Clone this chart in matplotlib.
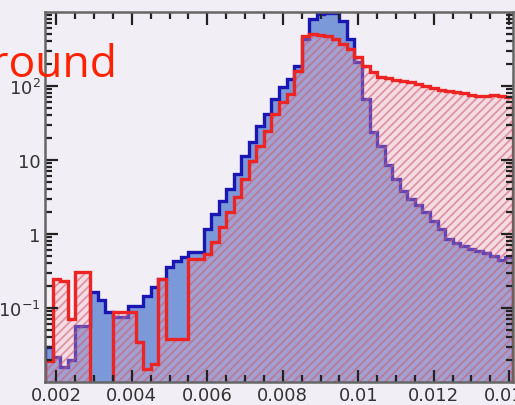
import numpy as np
import matplotlib
matplotlib.use('Agg')
import matplotlib.pyplot as plt

# bin edges: 62 bins of 0.0002 starting at 0.0017
edges = np.linspace(0.0017, 0.0141, 63)

signal = [0.030, 0.022, 0.016, 0.020, 0.057, 0.057, 0.164, 0.13, 0.088, 0.075,
          0.075, 0.106, 0.106, 0.145, 0.19, 0.25, 0.36, 0.43, 0.49, 0.57,
          0.57, 1.17, 1.86, 2.8, 4.1, 6.5, 11.3, 17.5, 28.8, 42,
          67, 97, 124, 186, 430, 800, 950, 980, 960, 755,
          430, 211, 67, 24, 15.5, 8.6, 5.5, 3.8, 3.0, 2.5,
          2.0, 1.5, 1.17, 0.86, 0.76, 0.69, 0.63, 0.59, 0.55, 0.50,
          0.45, 0.49]

background = [0.019, 0.25, 0.23, 0.07, 0.31, 0.31, 0, 0, 0, 0.088,
              0.088, 0.088, 0.035, 0.015, 0.0175, 0.25, 0.038, 0.038, 0.038, 0.46,
              0.46, 0.54, 0.78, 1.24, 1.98, 3.16, 5.5, 9.7, 15.5, 24.7,
              42, 61, 78, 160, 474, 505, 489, 474, 432, 370,
              316, 247, 186, 155, 132, 127, 120, 116, 113, 106,
              100, 94, 88, 85, 83, 80, 75, 73, 73, 76,
              73, 71]

xticks = [0.002, 0.004, 0.006, 0.008, 0.010, 0.012, 0.014]
xticklabels = ['0.002', '0.004', '0.006', '0.008', '0.01', '0.012', '0.014']
yticks = [0.1, 1, 10, 100]
yticklabels = [r'$\mathregular{10^{-1}}$', '1', '10', r'$\mathregular{10^{2}}$']

bg = '#f1eff5'
floor = 1e-3
sig = np.where(np.array(signal) > 0, signal, floor)
bkg = np.where(np.array(background) > 0, background, floor)

plt.rcParams['hatch.linewidth'] = 1.3

fig = plt.figure(figsize=(5.15, 4.06), dpi=100, facecolor=bg)
ax = fig.add_axes([45/515, 23/406, 468/515, 370/406], facecolor=bg)

ax.stairs(sig, edges, baseline=floor, fill=True, color='#7b98d8', lw=0)
ax.stairs(sig, edges, baseline=floor, color='#1a16b4', lw=2.4)

ax.stairs(bkg, edges, baseline=floor, fill=True, facecolor=(1.0, 0.7, 0.75, 0.3),
          edgecolor=(0.8, 0.35, 0.42, 0.55), hatch='////', lw=0)
ax.stairs(bkg, edges, baseline=floor, color='#ec2424', lw=2.4)

ax.set_yscale('log')
ax.set_xlim(0.0017, 0.0141)
ax.set_ylim(0.01, 1000)

ax.set_xticks(xticks)
ax.set_xticklabels(xticklabels)
ax.set_xticks(np.arange(0.002, 0.0141, 0.0005), minor=True)
ax.set_yticks(yticks)
ax.set_yticklabels(yticklabels)

ax.tick_params(which='both', direction='in', top=True, right=True, colors='#222222',
               labelcolor='#333333', labelsize=13, width=1.6)
ax.tick_params(which='major', length=9, pad=3)
ax.tick_params(which='minor', length=5)
for s in ax.spines.values():
    s.set_color('#666666')
    s.set_linewidth(1.8)

fig.text(118/515, 1 - 77/406, 'Background', color='#ff2200', fontsize=32,
         family='Open Sans', ha='right', va='baseline')

fig.savefig('out.png', dpi=100, facecolor=bg)
